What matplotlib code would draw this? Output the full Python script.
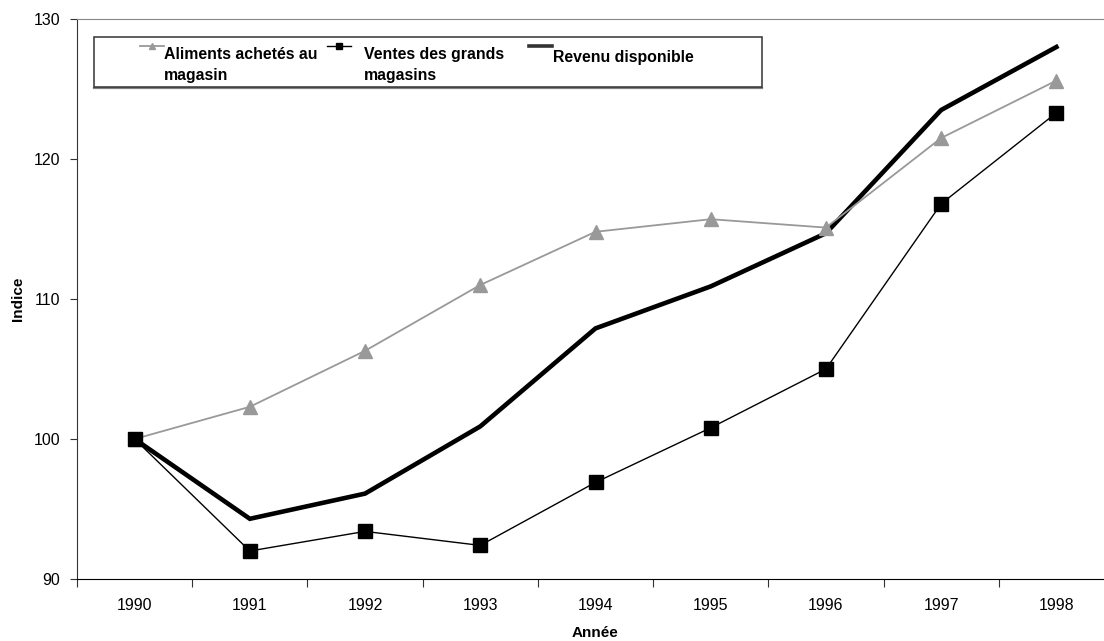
import matplotlib
matplotlib.use("Agg")
import matplotlib.pyplot as plt
from matplotlib.lines import Line2D
from matplotlib.patches import Rectangle

plt.rcParams['font.family'] = ['Liberation Sans', 'DejaVu Sans']

annees = ['1990', '1991', '1992', '1993', '1994', '1995', '1996', '1997', '1998']
aliments = [100.0, 102.3, 106.3, 111.0, 114.8, 115.7, 115.1, 121.5, 125.6]
ventes = [100.0, 92.0, 93.4, 92.4, 96.9, 100.8, 105.0, 116.8, 123.3]
revenu = [100.0, 94.3, 96.1, 100.9, 107.9, 110.9, 114.7, 123.5, 128.0]

W, H = 1104, 641
GRIS = '#999999'

fig = plt.figure(figsize=(W / 100, H / 100), dpi=100)
# zone de tracé (en pixels : gauche 77, droite 1114, haut 19, bas 579)
ax = fig.add_axes([77 / W, (H - 579) / H, (1114 - 77) / W, (579 - 19) / H])

x = list(range(len(annees)))
ax.plot(x, revenu, color='black', lw=3.3, zorder=2, solid_joinstyle='miter')
ax.plot(x, aliments, color=GRIS, lw=1.3, marker='^', markersize=10,
        markerfacecolor=GRIS, markeredgecolor=GRIS, zorder=3)
ax.plot(x, ventes, color='black', lw=1.0, marker='s', markersize=10,
        markerfacecolor='black', zorder=4)

ax.set_xlim(-0.5, len(annees) - 0.5)
ax.set_ylim(90, 130)
ax.set_yticks(range(90, 131, 10))
ax.set_xticks([i - 0.5 for i in range(len(annees) + 1)])
ax.set_xticklabels([])
ax.set_xticks(x, minor=True)
ax.set_xticklabels(annees, minor=True)
ax.tick_params(axis='x', which='major', direction='out', length=6, color='#333333')
ax.tick_params(axis='x', which='minor', length=0, pad=14, labelsize=11.5)
ax.tick_params(axis='y', direction='out', length=5, pad=7, labelsize=11.5, color='#333333')

ax.spines['right'].set_visible(False)
ax.spines['top'].set_color('#888888')
ax.spines['left'].set_color('#333333')
ax.spines['bottom'].set_color('black')

fig.text(18 / W, 1 - 299 / H, 'Indice', rotation=90, ha='center', va='center',
         fontsize=11, fontweight='bold')
fig.text(595 / W, 1 - 633 / H, 'Année', ha='center', va='center',
         fontsize=11, fontweight='bold')


def px(xp, yp):
    return xp / W, 1 - yp / H


# légende dessinée à la main (poignée alignée sur la première ligne)
x0, y0 = px(94, 87)
x1, y1 = px(762, 37)
fig.patches.append(Rectangle((x0, y0), x1 - x0, y1 - y0, transform=fig.transFigure,
                             facecolor='white', edgecolor='#333333', lw=1.1, zorder=5))
fig.lines.append(Line2D([x0, x1], [y0 - 0.6 / H, y0 - 0.6 / H], transform=fig.transFigure,
                        color='#808080', lw=1.6, zorder=5))

entrees = [
    (140, 164, dict(color=GRIS, lw=1.3, marker='^', markersize=5,
                    markerfacecolor=GRIS, markeredgecolor=GRIS),
     164, [(59, 'Aliments achetés au'), (80, 'magasin')]),
    (327, 351, dict(color='black', lw=1.0, marker='s', markersize=5),
     364, [(59, 'Ventes des grands'), (80, 'magasins')]),
    (529, 552, dict(color='#333333', lw=2.6), 553, [(62, 'Revenu disponible')]),
]
for xa, xb, style, xt, lignes in entrees:
    la, lb = px(xa, 46), px(xb, 46)
    m = px((xa + xb) / 2, 46)
    ligne = Line2D([la[0], m[0], lb[0]], [la[1], m[1], lb[1]], transform=fig.transFigure,
                   markevery=[1], zorder=6, **style)
    fig.lines.append(ligne)
    for yb, texte in lignes:
        tx, ty = px(xt, yb)
        fig.text(tx, ty, texte, ha='left', va='baseline', fontsize=11.4,
                 fontweight='bold', zorder=7)

fig.savefig('out.png', dpi=100)
